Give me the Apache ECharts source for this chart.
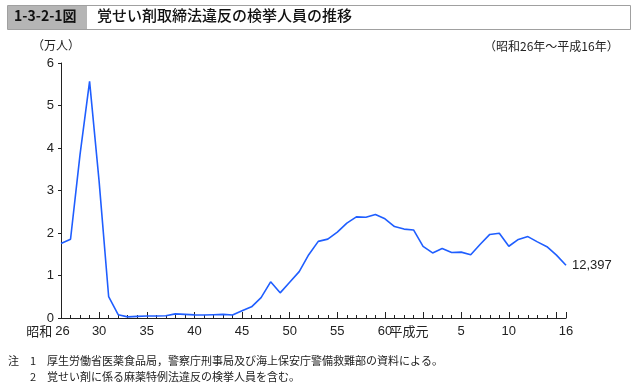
<!DOCTYPE html>
<html><head><meta charset="utf-8">
<script src="https://cdn.jsdelivr.net/npm/echarts@6/dist/echarts.min.js"></script>
<style>html,body{margin:0;padding:0;background:#fff}#c{width:639px;height:386px}</style>
</head><body><div id="c"></div>
<script>
// Years: 昭和26 (1951) ... 平成16 (2004)
const categories = ['昭和26','27','28','29','30','31','32','33','34','35','36','37','38','39','40','41','42','43','44','45','46','47','48','49','50','51','52','53','54','55','56','57','58','59','60','61','62','63','平成元','2','3','4','5','6','7','8','9','10','11','12','13','14','15','16'];
// Tick labels shown under the axis ('' = no label)
const tickLabels = ['26','','','','30','','','','','35','','','','','40','','','','','45','','','','','50','','','','','55','','','','','60','','','','平成元','','','','5','','','','','10','','','','','','16'];
// Major tick positions (indices)
const majorTicks = [4,9,14,19,24,29,34,38,42,47,52,53];
// 検挙人員 (persons)
const arrests = [17528,18521,38514,55664,32140,5047,781,271,374,476,477,546,971,856,736,696,775,860,704,1682,2634,4777,8510,5919,8422,10919,14900,18027,18553,20200,22331,23797,23705,24372,23349,21513,20920,20716,16866,15311,16330,15400,15495,14896,17364,19666,19937,16888,18491,19156,17912,16771,14797,12397];
const yTicks = [0,1,2,3,4,5,6]; // 万人

const chart = echarts.init(document.getElementById('c'), null, {renderer:'canvas'});
const FONT = '"Liberation Sans", Arial, sans-serif';
const JP = '"Noto Sans CJK JP", sans-serif';
chart.setOption({
  animation:false,
  grid:{left:61,right:73,top:63,bottom:68,containLabel:false},
  xAxis:[{
    type:'category', data:categories, boundaryGap:false, position:'bottom',
    axisLine:{lineStyle:{color:'#222',width:1}},
    axisTick:{inside:true,length:3,interval:0,lineStyle:{color:'#222'}},
    axisLabel:{interval:0,margin:7,color:'#222',fontSize:13,fontFamily:FONT,
      formatter:(v,i)=>{
        const t = tickLabels[i];
        if(i===0) return '{a|昭和}{n|'+t+'}';
        if(t==='平成元') return '{p|平成元}';
        return t;
      },
      rich:{
        a:{fontFamily:JP,fontSize:13,color:'#222'},
        n:{fontFamily:FONT,fontSize:13,color:'#222',padding:[0,26,0,3]},
        p:{fontFamily:JP,fontSize:13,color:'#222',padding:[0,28,0,0]}
      }
    }
  },{
    type:'category', data:categories, boundaryGap:false, position:'bottom', offset:0,
    axisLine:{show:false},
    axisTick:{inside:true,length:6,interval:(i)=>majorTicks.indexOf(i)>=0,lineStyle:{color:'#222'}},
    axisLabel:{show:false}
  }],
  yAxis:{
    type:'value', min:0, max:60000, interval:10000,
    axisLine:{show:true,lineStyle:{color:'#222'}},
    axisTick:{show:true,length:3,lineStyle:{color:'#222'}},
    splitLine:{show:false},
    axisLabel:{margin:7,color:'#222',fontSize:13,fontFamily:FONT,formatter:v=>String(yTicks[Math.round(v/10000)])}
  },
  series:[{
    type:'line', data:arrests, xAxisIndex:0, symbol:'none',
    lineStyle:{color:'#1f5eff',width:1.6},
    endLabel:{show:true,distance:6,color:'#222',fontSize:13,fontFamily:FONT,
      formatter:p=>Number(p.value).toLocaleString('en-US')}
  }],
  graphic:[
    {type:'rect',shape:{x:7.5,y:5.5,width:623,height:24},style:{fill:'#fff',stroke:'#a0a0a0',lineWidth:1}},
    {type:'rect',shape:{x:8,y:6,width:79,height:23},style:{fill:'#b5b5b5'}},
    {type:'text',left:14,top:9,style:{text:'1-3-2-1図',font:'bold 14px "Noto Sans CJK JP", sans-serif',fill:'#111'}},
    {type:'text',left:97,top:8,style:{text:'覚せい剤取締法違反の検挙人員の推移',font:'500 15px "Noto Sans CJK JP", sans-serif',fill:'#111'}},
    {type:'text',left:32,top:39,style:{text:'（万人）',font:'12px "Noto Sans CJK JP", sans-serif',fill:'#222'}},
    {type:'text',left:484,top:40,style:{text:'（昭和26年～平成16年）',font:'12px "Noto Sans CJK JP", sans-serif',fill:'#222'}},
    {type:'text',left:8,top:355,style:{text:'注　1　厚生労働省医薬食品局，警察庁刑事局及び海上保安庁警備救難部の資料による。',font:'11px "Noto Sans CJK JP", sans-serif',fill:'#222'}},
    {type:'text',left:30,top:371,style:{text:'2　覚せい剤に係る麻薬特例法違反の検挙人員を含む。',font:'11px "Noto Sans CJK JP", sans-serif',fill:'#222'}}
  ]
});
</script></body></html>
